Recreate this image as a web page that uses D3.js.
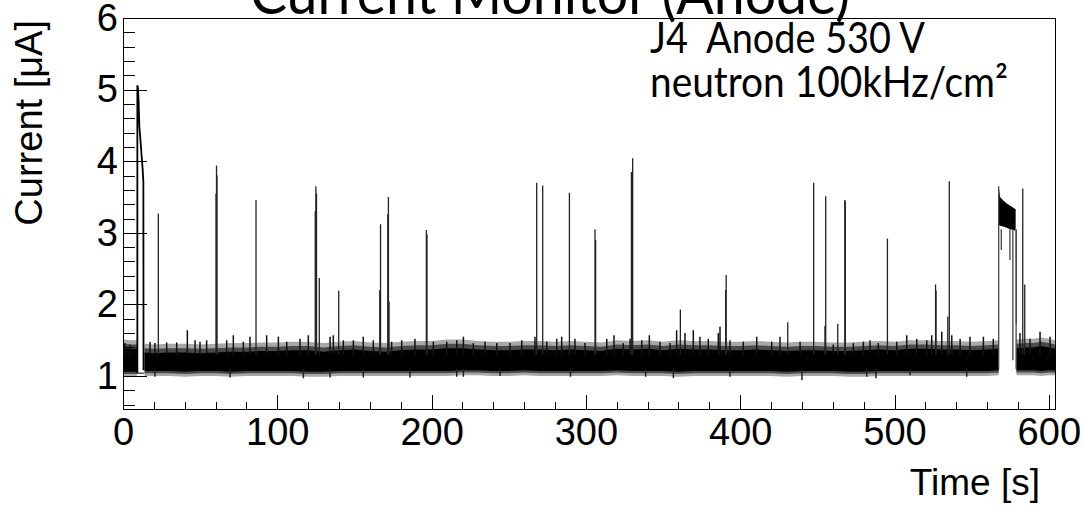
<!DOCTYPE html>
<html>
<head>
<meta charset="utf-8">
<script src="https://cdn.jsdelivr.net/npm/d3@7"></script>
<style>
  body { margin: 0; background: #fff; }
  svg { display: block; }
  .axis text { font-family: "Liberation Sans", Arial, sans-serif; font-size: 38px; fill: #000; }
  .axis path, .axis line { stroke: #000; shape-rendering: crispEdges; }
  .note { font-family: Lato, "Open Sans", sans-serif; fill: #000; }
</style>
</head>
<body>
<svg id="chart" width="1084" height="509"></svg>
<script>

// tick labels
const xTicks = [0, 100, 200, 300, 400, 500, 600];
const yTicks = [1, 2, 3, 4, 5, 6];

// dense part of the noisy baseline (null = trace is elsewhere)
const bandT   = [0, 5, 9, 11, 14, 20, 30, 40, 50, 60, 70, 80, 90, 100, 110, 120, 130, 140, 150, 160, 170, 180, 190, 200,
                 210, 220, 230, 240, 250, 260, 270, 280, 290, 300, 310, 320, 330, 340, 350, 360, 370, 380, 390, 400,
                 410, 420, 430, 440, 450, 460, 470, 480, 490, 500, 510, 520, 530, 540, 550, 560, 567.5, 573, 579, 585,
                 590, 595, 600, 604];
const bandTop = [1.39, 1.38, 1.38, null, 1.33, 1.32, 1.33, 1.33, 1.32, 1.33, 1.34, 1.34, 1.35, 1.35, 1.36, 1.36, 1.34, 1.36, 1.37, 1.35, 1.34, 1.36, 1.37, 1.37,
                 1.39, 1.39, 1.37, 1.36, 1.36, 1.37, 1.37, 1.36, 1.37, 1.36, 1.35, 1.38, 1.37, 1.38, 1.36, 1.38, 1.37, 1.37, 1.36, 1.36,
                 1.37, 1.36, 1.35, 1.36, 1.36, 1.35, 1.35, 1.36, 1.37, 1.36, 1.38, 1.38, 1.37, 1.37, 1.36, 1.37, 1.38, null, 1.39, 1.40,
                 1.40, 1.42, 1.40, 1.38];
const bandBot = [1.06, 1.06, 1.06, null, 1.07, 1.07, 1.07, 1.06, 1.07, 1.07, 1.06, 1.07, 1.07, 1.07, 1.07, 1.06, 1.06, 1.07, 1.07, 1.07, 1.07, 1.07, 1.07, 1.07,
                 1.07, 1.08, 1.08, 1.07, 1.07, 1.08, 1.07, 1.07, 1.07, 1.07, 1.07, 1.08, 1.07, 1.07, 1.07, 1.06, 1.07, 1.07, 1.07, 1.07,
                 1.07, 1.07, 1.06, 1.07, 1.07, 1.07, 1.06, 1.06, 1.07, 1.07, 1.07, 1.07, 1.07, 1.07, 1.07, 1.07, 1.08, null, 1.08, 1.08,
                 1.08, 1.07, 1.08, 1.08];

// small hairs sticking out of the band
const hairUpT = [1.3, 4.5, 17.5, 20.7, 28.3, 34.8, 41.7, 46.7, 49.9, 54.2, 67.2, 71.5, 78.0, 82.3, 93.1, 100.7, 106.1, 114.7, 120.1,
                 134.2, 136.3, 142.8, 149.3, 155.7, 162.2, 174.1, 180.6, 189.2, 201.1, 209.8, 216.3, 220.6, 227.0, 234.6, 242.2,
                 250.8, 258.4, 267.0, 274.6, 281.1, 284.3, 292.9, 299.4, 313.5, 318.2, 324.2, 328.6, 336.2, 341.1, 348.0, 354.5,
                 358.8, 364.2, 369.6, 373.9, 379.3, 385.8, 386.9, 393.4, 402.0, 410.7, 420.4, 425.8, 438.8, 460.3, 473.3, 479.8,
                 484.1, 489.5, 501.4, 507.9, 514.4, 520.9, 524.1, 530.6, 537.1, 542.5, 548.9, 557.6, 564.0, 581.3, 587.8, 594.3, 600.8];
const hairUpV = [1.46, 1.44, 1.48, 1.46, 1.47, 1.47, 1.64, 1.50, 1.48, 1.50, 1.50, 1.57, 1.48, 1.55, 1.57, 1.55, 1.48, 1.52, 1.57,
                 1.55, 1.57, 1.50, 1.50, 1.55, 1.50, 1.48, 1.50, 1.52, 1.48, 1.48, 1.50, 1.55, 1.46, 1.48, 1.46,
                 1.46, 1.50, 1.55, 1.48, 1.52, 1.55, 1.52, 1.46, 1.52, 1.57, 1.46, 1.52, 1.50, 1.57, 1.48, 1.46,
                 1.64, 1.60, 1.64, 1.55, 1.52, 1.60, 1.69, 1.50, 1.48, 1.55, 1.48, 1.55, 1.48, 1.44, 1.46, 1.48,
                 1.50, 1.46, 1.48, 1.57, 1.52, 1.50, 1.57, 1.62, 1.57, 1.52, 1.55, 1.55, 1.52, 1.60, 1.52, 1.62, 1.55];
const hairDownT = [20.7, 69.3, 116.9, 134.2, 155.7, 186.0, 216.3, 220.6, 244.4, 290.0, 338.7, 356.7, 393.4, 440.0, 482.0, 488.0, 510.0, 546.8];
const hairDownV = [0.99, 0.98, 0.97, 0.98, 0.98, 0.98, 0.99, 0.99, 1.00, 0.99, 0.99, 0.97, 0.99, 0.94, 0.99, 0.97, 1.01, 0.99];

// tall spikes: time [s], peak current [uA]
const spikeT = [22.9, 60.3, 60.6, 60.9, 86.2, 124.6, 125.0, 125.4, 127.2, 139.8, 166.4, 166.9, 171.6, 172.0, 172.4,
                196.6, 197.0, 268.1, 272.0, 289.3, 305.9, 306.3, 329.5, 329.7, 329.9, 330.3, 361.2, 390.6, 390.9,
                430.8, 447.6, 454.9, 455.4, 463.2, 467.8, 468.1, 495.4, 526.6, 526.9, 534.5, 535.5, 583.1, 584.4];
const spikeV = [3.27, 3.55, 3.94, 3.80, 3.46, 3.30, 3.65, 3.55, 2.37, 2.19, 2.20, 3.12, 3.26, 3.50, 2.04,
                3.04, 2.98, 3.70, 3.66, 3.56, 3.05, 2.90, 3.85, 3.27, 3.85, 4.04, 1.93, 2.20, 2.41,
                1.75, 3.70, 1.70, 3.51, 1.73, 3.46, 3.44, 2.92, 2.28, 2.19, 1.83, 3.72, 3.62, 2.28];

// the large pulse at the start of the run
const burstT = [9.3, 9.3, 9.7, 10.1, 10.6, 11.3, 12.1, 12.7, 13.2, 13.3];
const burstV = [1.04, 5.06, 5.02, 4.85, 4.48, 4.30, 4.06, 3.90, 3.71, 1.08];
const floorT = [9.0, 13.8];
const floorV = [1.04, 1.04];

// raised level near the end
const plateauT   = [567.5, 568.4, 570.5, 572.7, 574.8, 577.0, 578.5];
const plateauTop = [3.65, 3.50, 3.45, 3.41, 3.38, 3.35, 3.33];
const plateauBot = [3.11, 3.10, 3.09, 3.07, 3.05, 3.04, 3.03];
const dropT = [569.2, 574.8, 576.7, 578.9];
const dropV = [2.76, 2.62, 1.22, 1.74];

const frame = { left: 123, right: 1055, top: 18, bottom: 409 };
const svg = d3.select("#chart");

const x = d3.scaleLinear().domain([0, 604]).range([frame.left, frame.right]);
const y = d3.scaleLinear().domain([0.54, 6]).range([frame.bottom, frame.top]);

svg.append("defs").append("clipPath").attr("id", "clip")
  .append("rect")
    .attr("x", frame.left).attr("y", frame.top)
    .attr("width", frame.right - frame.left).attr("height", frame.bottom - frame.top);

const plot = svg.append("g").attr("clip-path", "url(#clip)");

// baseline band
let bandRows = bandT.map((t, i) => ({ t: t, top: bandTop[i], bot: bandBot[i] }));

// fuzzy edges of the band: the noise only partly covers them
function bandEdge(padTop, padBot, fill) {
  plot.append("path")
    .datum(bandRows)
    .attr("fill", fill)
    .attr("d", d3.area()
      .defined(d => d.top != null)
      .x(d => x(d.t))
      .y0(d => y(d.bot - padBot))
      .y1(d => y(d.top + padTop)));
}
bandEdge(0.12, 0.07, "#a8a8a8");
bandEdge(0.06, 0.03, "#4a4a4a");
bandEdge(0, 0, "#000");

plot.selectAll("line.hairup")
  .data(hairUpT.map((t, i) => ({ t: t, v: hairUpV[i] })))
  .join("line")
    .attr("class", "hairup")
    .attr("x1", d => x(d.t)).attr("x2", d => x(d.t))
    .attr("y1", y(1.3)).attr("y2", d => y(d.v))
    .attr("stroke", "#111").attr("stroke-width", 1.5);

plot.selectAll("line.hairdown")
  .data(hairDownT.map((t, i) => ({ t: t, v: hairDownV[i] })))
  .join("line")
    .attr("class", "hairdown")
    .attr("x1", d => x(d.t)).attr("x2", d => x(d.t))
    .attr("y1", y(1.1)).attr("y2", d => y(d.v))
    .attr("stroke", "#222").attr("stroke-width", 1.5);

plot.selectAll("line.spike")
  .data(spikeT.map((t, i) => ({ t: t, v: spikeV[i] })))
  .join("line")
    .attr("class", "spike")
    .attr("x1", d => x(d.t)).attr("x2", d => x(d.t))
    .attr("y1", y(1.3)).attr("y2", d => y(d.v))
    .attr("stroke", "#222").attr("stroke-width", 1.3);

let line = d3.line().x(d => x(d[0])).y(d => y(d[1]));

plot.append("path")
  .datum(floorT.map((t, i) => [t, floorV[i]]))
  .attr("fill", "none").attr("stroke", "#333").attr("stroke-width", 1.2)
  .attr("d", line);

plot.append("path")
  .datum(burstT.map((t, i) => [t, burstV[i]]))
  .attr("fill", "none").attr("stroke", "#000").attr("stroke-width", 1.8)
  .attr("d", line);

// plateau
let plateauRows = plateauT.map((t, i) => ({ t: t, top: plateauTop[i], bot: plateauBot[i] }));
plot.append("path")
  .datum(plateauRows)
  .attr("fill", "#000")
  .attr("d", d3.area().x(d => x(d.t)).y0(d => y(d.bot)).y1(d => y(d.top)));

let first = plateauRows[0], last = plateauRows[plateauRows.length - 1];
plot.append("path")
  .datum([[first.t, 1.1], [first.t, first.top]])
  .attr("fill", "none").attr("stroke", "#444").attr("stroke-width", 1.3)
  .attr("d", line);
plot.append("path")
  .datum([[last.t + 0.3, last.bot], [last.t + 0.3, 1.1]])
  .attr("fill", "none").attr("stroke", "#444").attr("stroke-width", 1.3)
  .attr("d", line);

plot.selectAll("line.drop")
  .data(dropT.map((t, i) => ({ t: t, v: dropV[i] })))
  .join("line")
    .attr("class", "drop")
    .attr("x1", d => x(d.t)).attr("x2", d => x(d.t))
    .attr("y1", y(3.05)).attr("y2", d => y(d.v))
    .attr("stroke", "#444").attr("stroke-width", 1.3);

// axes, ticks point into the frame (ROOT style)
const xMinor = d3.range(0, 604, 20).filter(v => v % 100 !== 0);
const yMinor = d3.range(3, 30).filter(k => k % 5 !== 0).map(k => k / 5);

svg.append("g")
  .attr("class", "axis")
  .attr("transform", `translate(0,${frame.bottom})`)
  .call(d3.axisBottom(x).tickValues(xMinor).tickSizeInner(-7).tickSizeOuter(0).tickFormat(""))
  .call(g => g.select(".domain").remove());

svg.append("g")
  .attr("class", "axis")
  .attr("transform", `translate(0,${frame.bottom})`)
  .call(d3.axisBottom(x).tickValues(xTicks).tickSizeInner(-14).tickSizeOuter(0).tickPadding(9).tickFormat(d3.format("d")));

svg.append("g")
  .attr("class", "axis")
  .attr("transform", `translate(${frame.left},0)`)
  .call(d3.axisLeft(y).tickValues(yMinor).tickSizeInner(-12).tickSizeOuter(0).tickFormat(""))
  .call(g => g.select(".domain").remove());

svg.append("g")
  .attr("class", "axis")
  .attr("transform", `translate(${frame.left},0)`)
  .call(d3.axisLeft(y).tickValues(yTicks).tickSizeInner(-24).tickSizeOuter(0).tickPadding(5).tickFormat(d3.format("d")));

svg.append("rect")
  .attr("x", frame.left).attr("y", frame.top)
  .attr("width", frame.right - frame.left).attr("height", frame.bottom - frame.top)
  .attr("fill", "none").attr("stroke", "#000").attr("shape-rendering", "crispEdges");

// axis titles
svg.append("text")
  .attr("x", 1040).attr("y", 495)
  .attr("text-anchor", "end")
  .style("font-family", "'Liberation Sans', Arial, sans-serif")
  .style("font-size", "37px")
  .text("Time [s]");

svg.append("text")
  .attr("transform", "translate(42,20) rotate(-90)")
  .attr("text-anchor", "end")
  .style("font-family", "'Liberation Sans', Arial, sans-serif")
  .style("font-size", "38px")
  .text("Current [\u03bcA]");

// title and notes pasted on top of the plot
svg.append("text")
  .attr("class", "note")
  .attr("x", 250).attr("y", 14)
  .attr("textLength", 600).attr("lengthAdjust", "spacingAndGlyphs")
  .style("font-size", "58px")
  .text("Current Monitor (Anode)");

svg.append("text")
  .attr("class", "note")
  .attr("x", 650).attr("y", 53)
  .attr("textLength", 275).attr("lengthAdjust", "spacingAndGlyphs")
  .style("font-size", "42px")
  .style("white-space", "pre")
  .text("J4  Anode 530 V");

svg.append("text")
  .attr("class", "note")
  .attr("x", 650).attr("y", 97)
  .attr("textLength", 358).attr("lengthAdjust", "spacingAndGlyphs")
  .style("font-size", "42px")
  .text("neutron 100kHz/cm\u00b2");

</script>
</body>
</html>
